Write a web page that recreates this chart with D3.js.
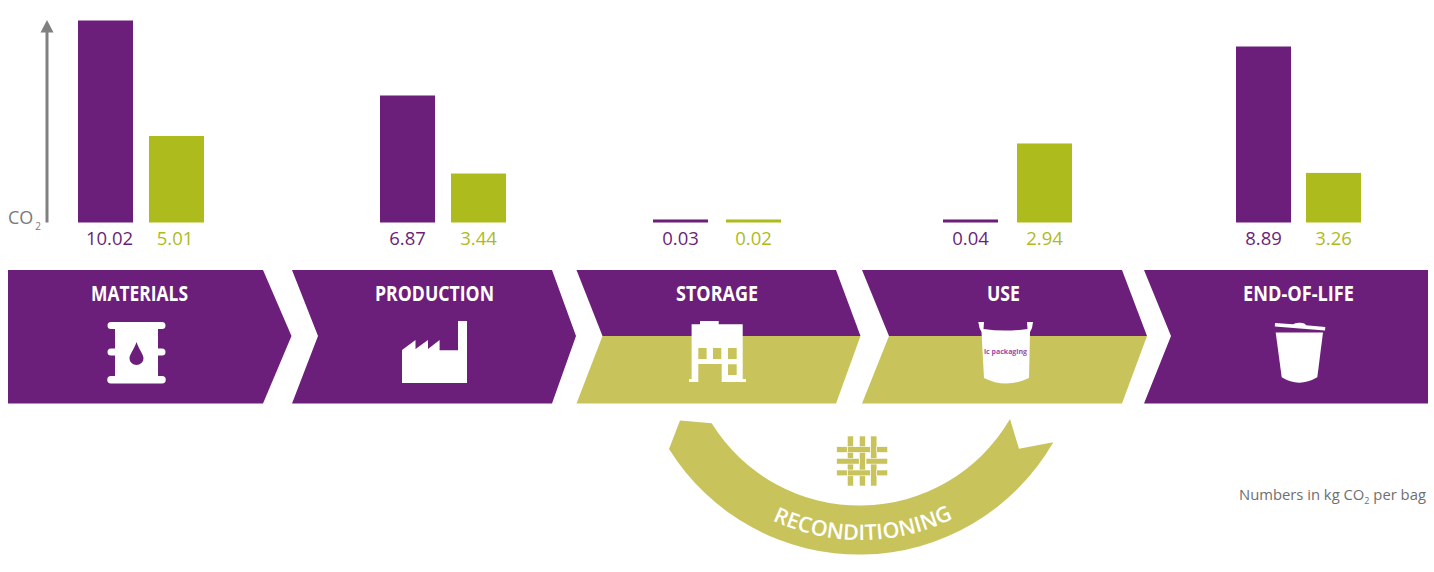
<!DOCTYPE html>
<html>
<head>
<meta charset="utf-8">
<script src="https://cdn.jsdelivr.net/npm/d3@7"></script>
<style>
  html, body { margin: 0; padding: 0; background: #fff; }
  svg { display: block; }
  text { font-family: 'Open Sans', sans-serif; }
</style>
</head>
<body>
<div id="chart"></div>
<script>
// data
const stages = ['MATERIALS', 'PRODUCTION', 'STORAGE', 'USE', 'END-OF-LIFE'];
const purpleLabels = ['10.02', '6.87', '0.03', '0.04', '8.89'];
const greenLabels = ['5.01', '3.44', '0.02', '2.94', '3.26'];
// the printed numbers and the drawn bars do not agree in the original,
// so these are the bar heights
const purpleBars = [10.02, 6.3, 0.15, 0.15, 8.73];
const greenBars = [4.29, 2.43, 0.15, 3.92, 2.46];
const reconditioned = ['STORAGE', 'USE'];

// colours
const PURPLE = '#6c1f7a';
const GREEN = '#aebb1c';
const OLIVE = '#c8c45b';
const GREY = '#808080';

// layout
const WIDTH = 1434;
const HEIGHT = 572;
const BAR_WIDTH = 55;
const purpleX = d3.scaleOrdinal().domain(stages).range([78, 380, 653, 943, 1236]);
const greenX = d3.scaleOrdinal().domain(stages).range([149, 451, 726, 1017, 1306]);
const titleX = d3.scaleOrdinal().domain(stages).range([139.5, 434.5, 717, 1003.5, 1298.5]);
const titleWidth = d3.scaleOrdinal().domain(stages).range([97, 119, 82, 33, 111]);
const y = d3.scaleLinear().domain([0, 10.02]).range([222.5, 20.5]);

const CHEV_TOP = 270;
const CHEV_MID = 336;
const CHEV_BOTTOM = 403.5;
const chevrons = [
  { left: 8, notch: 8, right: 263, tip: 291.5 },
  { left: 292, notch: 318, right: 552, tip: 576 },
  { left: 576.5, notch: 602.5, right: 836, tip: 860.5 },
  { left: 862, notch: 889, right: 1122, tip: 1147 },
  { left: 1144, notch: 1171, right: 1428, tip: 1428 },
];

const svg = d3
  .select('#chart')
  .append('svg')
  .attr('width', WIDTH)
  .attr('height', HEIGHT)
  .style('background', '#fff');

// draw bars
const drawBars = (values, x, color) => {
  svg
    .append('g')
    .selectAll('rect')
    .data(values)
    .join('rect')
    .attr('x', (d, i) => x(stages[i]))
    .attr('y', (d) => y(d))
    .attr('width', BAR_WIDTH)
    .attr('height', (d) => y(0) - y(d))
    .attr('fill', color);
};
drawBars(purpleBars, purpleX, PURPLE);
drawBars(greenBars, greenX, GREEN);

// draw value labels
const drawLabels = (labels, x, color, shift) => {
  svg
    .append('g')
    .selectAll('text')
    .data(labels)
    .join('text')
    .attr('x', (d, i) => x(stages[i]) + BAR_WIDTH / 2 + shift(i))
    .attr('y', 245)
    .attr('text-anchor', 'middle')
    .attr('fill', color)
    .style('font-size', '18.5px')
    .style('font-weight', 500)
    .text((d) => d);
};
drawLabels(purpleLabels, purpleX, PURPLE, (i) => (i === 0 ? 4 : 0));
drawLabels(greenLabels, greenX, GREEN, (i) => (i === 0 ? -1.5 : 0));

// co2 axis
svg
  .append('line')
  .attr('x1', 47)
  .attr('x2', 47)
  .attr('y1', y(0))
  .attr('y2', 30)
  .attr('stroke', GREY)
  .attr('stroke-width', 3);
svg
  .append('path')
  .attr('d', 'M47,20 L53.5,32.5 L40.5,32.5 Z')
  .attr('fill', GREY);
const co2 = svg
  .append('text')
  .attr('x', 8)
  .attr('y', 224)
  .attr('fill', '#7a7a7a')
  .style('font-size', '18px');
co2.append('tspan').text('CO');
co2.append('tspan').attr('dy', 6).style('font-size', '10px').attr('dx', 2).text('2');

// chevrons
const isReconditioned = (i) => reconditioned.includes(stages[i]);
const outline = (c) =>
  `M${c.left},${CHEV_TOP} L${c.right},${CHEV_TOP} L${c.tip},${CHEV_MID} L${c.right},${CHEV_BOTTOM} L${c.left},${CHEV_BOTTOM} L${c.notch},${CHEV_MID} Z`;
const upperHalf = (c) =>
  `M${c.left},${CHEV_TOP} L${c.right},${CHEV_TOP} L${c.tip},${CHEV_MID} L${c.notch},${CHEV_MID} Z`;
const lowerHalf = (c) =>
  `M${c.notch},${CHEV_MID} L${c.tip},${CHEV_MID} L${c.right},${CHEV_BOTTOM} L${c.left},${CHEV_BOTTOM} Z`;

const chevronGroup = svg.append('g');
chevronGroup
  .selectAll('path.lower')
  .data(chevrons.filter((c, i) => isReconditioned(i)))
  .join('path')
  .attr('class', 'lower')
  .attr('d', lowerHalf)
  .attr('fill', OLIVE);
chevronGroup
  .selectAll('path.upper')
  .data(chevrons)
  .join('path')
  .attr('class', 'upper')
  .attr('d', (c, i) => (isReconditioned(i) ? upperHalf(c) : outline(c)))
  .attr('fill', PURPLE);

// stage titles
svg
  .append('g')
  .selectAll('text')
  .data(stages)
  .join('text')
  .attr('x', (d) => titleX(d))
  .attr('y', 300.5)
  .attr('text-anchor', 'middle')
  .attr('fill', '#fff')
  .attr('textLength', (d) => titleWidth(d))
  .attr('lengthAdjust', 'spacingAndGlyphs')
  .style('font-family', "'Liberation Sans Narrow', 'Open Sans', sans-serif")
  .style('font-weight', 700)
  .style('font-size', '21px')
  .text((d) => d);

// icons
const icons = svg.append('g').attr('fill', '#fff').attr('fill-rule', 'evenodd');

// barrel
icons
  .append('path')
  .attr(
    'd',
    'M115,325.5 L158,325.5 L158,348.5 L162,348.5 A3.5,3.5 0 0 1 162,355.5 L158,355.5 L158,376 L162,376 A3.5,3.5 0 0 1 162,383.5 L111,383.5 A3.5,3.5 0 0 1 111,376 L115,376 L115,355.5 L111,355.5 A3.5,3.5 0 0 1 111,348.5 L115,348.5 L115,329 L111,329 A3.5,3.5 0 0 1 111,322 L162,322 A3.5,3.5 0 0 1 162,329 L158,329 L158,325.5 Z ' +
      'M136.5,342 C134,350 129.5,354 129.5,358.5 A7,6.5 0 0 0 143.5,358.5 C143.5,354 139,350 136.5,342 Z'
  );
// factory
icons
  .append('path')
  .attr(
    'd',
    'M402,383 L402,350 L415.5,340 L415.5,349 L428,340 L428,349 L439.6,340 L439.6,350.3 L458,350.3 L458,321 L467,321 L467,383 Z'
  );
// building
icons
  .append('path')
  .attr(
    'd',
    'M691.6,379 L691.6,324.3 L700,324.3 L700,321 L718.7,321 L718.7,324.3 L742.7,324.3 L742.7,379 L746,379 L746,382 L721.7,382 L721.7,364 L698.3,364 L698.3,382 L689,382 L689,379 Z ' +
      'M698.3,348 h8.3 v11 h-8.3 Z M713,348 h8.3 v11 h-8.3 Z M728,348 h8.7 v11 h-8.7 Z M728,364.3 h8.7 v10.7 h-8.7 Z'
  );
// bag
icons
  .append('path')
  .attr(
    'd',
    'M978.3,322 L984,322 L983.5,329 Q1005,332 1027.5,329 L1027,322 L1033,322 L1032,328 L1030,332 L1029,378 Q1006,389 984,378 L981.5,332 L979.5,328 Z'
  );
svg
  .append('text')
  .attr('x', 1005.5)
  .attr('y', 354)
  .attr('text-anchor', 'middle')
  .attr('fill', '#9a4ca8')
  .style('font-size', '7px')
  .style('font-weight', 700)
  .text('lc packaging');
// bin
icons
  .append('path')
  .attr('d', 'M1275,323 L1293,324.3 A7,3 0 0 1 1306,325.3 L1325.3,327 L1325,330.5 L1274.8,326.5 Z');
icons
  .append('path')
  .attr(
    'd',
    'M1275.7,332.5 L1323,332.5 L1317.3,377.3 Q1299,388 1281.7,377.3 Z'
  );

// reconditioning arrow
const INNER_R = 174;
const OUTER_R = 224;
svg
  .append('path')
  .attr(
    'd',
    `M669,449 L680,420.5 L711.7,423.3 A${INNER_R},${INNER_R} 0 0 0 1010,419 L1019,448.7 L1053.3,442.3 A${OUTER_R},${OUTER_R} 0 0 1 669,449 Z`
  )
  .attr('fill', OLIVE);
svg
  .append('path')
  .attr('id', 'reconPath')
  .attr('d', 'M680,435.5 A209,209 0 0 0 1044,432')
  .attr('fill', 'none');
svg
  .append('text')
  .attr('fill', '#fff')
  .style('font-size', '21.5px')
  .style('font-weight', 600)
  .append('textPath')
  .attr('href', '#reconPath')
  .attr('startOffset', '50%')
  .attr('text-anchor', 'middle')
  .text('RECONDITIONING');

// weave icon
const weave = svg.append('g').attr('fill', OLIVE).attr('stroke', '#fff').attr('stroke-width', 0.6);
[847.3, 859.3, 870.7].forEach((vx) => {
  weave.append('rect').attr('x', vx).attr('y', 436).attr('width', 6.2).attr('height', 50);
});
[
  [836.7, 446.7, 10.5],
  [847.5, 446.7, 23],
  [876.7, 446.7, 11],
  [836.7, 458.3, 22.5],
  [866, 458.3, 21.7],
  [836.7, 470, 10.5],
  [847.5, 470, 23],
  [876.7, 470, 11],
].forEach(([hx, hy, hw]) => {
  weave.append('rect').attr('x', hx).attr('y', hy).attr('width', hw).attr('height', 5.8);
});

// footnote
const note = svg
  .append('text')
  .attr('x', 1239)
  .attr('y', 500)
  .attr('fill', '#6f6f6f')
  .style('font-size', '14.8px');
note.append('tspan').text('Numbers in kg CO');
note.append('tspan').attr('dy', 4).style('font-size', '9px').text('2');
note.append('tspan').attr('dy', -4).text(' per bag');
</script>
</body>
</html>
